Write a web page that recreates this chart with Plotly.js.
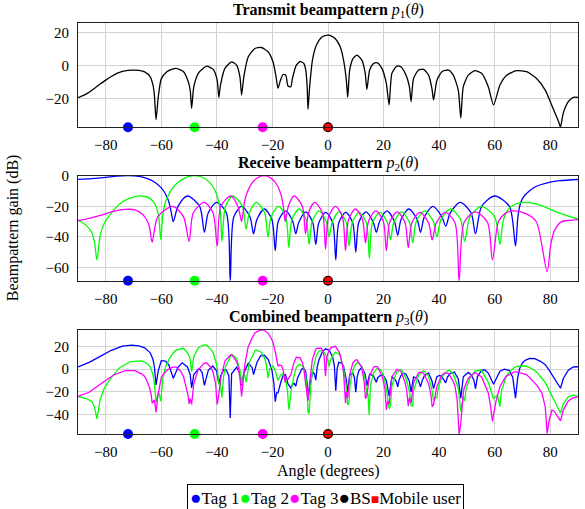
<!DOCTYPE html>
<html>
<head>
<meta charset="utf-8">
<script src="https://cdn.plot.ly/plotly-3.0.1.min.js"></script>
<style>
  html, body { margin: 0; padding: 0; background: #fff; }
  #chart { width: 585px; height: 509px; }
</style>
</head>
<body>
<div id="chart"></div>
<script>
// Angles (degrees) of the tags, the base station and the mobile user
const tagNames = ['Tag 1', 'Tag 2', 'Tag 3'];
const tagColors = ['#0000ff', '#00ff00', '#ff00ff'];
const tagAngles = [-72, -48, -23.5];
const bsAngle = [0];
const userAngle = [0];
const angleTicks = [-80, -60, -40, -20, 0, 20, 40, 60, 80];

// Transmit beampattern p1 (dB)
const txAngle = [
  -90,-88,-86,-84,-82,-80,-78,-76,-74,-72,
  -70.7,-68,-66,-64,-63,-62.5,-61.9,-61.1,-60,-58,
  -56,-54.7,-52,-50.3,-49.6,-49.1,-48.3,-46.7,-45,-43.7,
  -41.3,-39.9,-39.3,-38.7,-37.1,-34.7,-32.9,-31.7,-31.1,-30.3,
  -28.7,-26.3,-24,-21.6,-19.8,-18.8,-18,-17.1,-16.2,-15.2,
  -14.4,-13.4,-12.8,-11.4,-10,-8.7,-8,-7.5,-7.2,-6.6,
  -5.6,-4.2,-2.4,-1.1,0.2,1.4,2.6,4.4,5.6,6.6,
  7.1,7.8,9,10.4,12.2,13.4,14,15,16.4,17.8,
  19.4,21,22,23,24.8,26.2,28.1,29.3,29.9,30.8,
  32.6,34.4,36.2,37.4,38,39.2,41,43.4,45.1,46.9,
  47.8,48.7,50.5,52.9,55.3,57.7,59.6,61.9,64.3,67.9,
  71.5,75.1,78.2,81,83.2,83.7,84.7,86.5,88.3,90
];
const txGain = [
  -19.6,-18.2,-16.3,-13.8,-11.3,-8.9,-6.7,-4.8,-3.6,-3.0,
  -2.8,-3.0,-3.9,-6.9,-12,-18,-33,-19,-8,-3.8,
  -2.2,-1.8,-3.8,-9.9,-15,-26,-12.9,-4.8,-1.8,-0.4,
  -2.4,-8.9,-19.4,-11.9,-1.8,2.2,0.2,-6.9,-18,-6.9,
  5.3,10.3,10.9,8.3,2.2,-5.9,-13.9,-8.9,-5.5,-5.9,
  -12.5,-13,-7.9,0.2,2.4,1.2,-2.8,-12.9,-26.7,-12.9,
  3.2,12.3,17,18.1,18.4,17.7,16.4,11.3,3.2,-8.9,
  -19.4,-2.8,4.2,6.3,3.2,-4.8,-14.5,-2.8,1.2,1.6,
  -1.8,-10.9,-24,-4.8,-0.4,-0.8,-5.9,-12.9,-22,-7.9,
  -2.8,-2.4,-5.9,-13.9,-21,-9.1,-3.8,-2.8,-5.9,-15,
  -32,-12.9,-5.9,-3.2,-4.8,-12.9,-24,-11.9,-5.9,-3.2,
  -3.8,-7.9,-15,-26,-35,-37.5,-29,-22,-19.4,-19.4
];

// Receive beampattern p2 (dB), one per tag
const rxAngleTag1 = [
  -90,-85,-80,-76,-72,-68,-65,-62.5,-60,-58.5,-57.3,-56.5,-55.7,
  -54.0,-50.6,-46.2,-44.5,
  -43.1,-40.1,-36.6,-35.2,
  -33.9,-31.1,-28.1,-26.8,
  -25.6,-22.9,-20.2,-19,
  -17.9,-15.3,-12.7,-11.6,
  -10.5,-8.0,-5.5,-4.4,
  -3.3,-0.8,1.7,2.8,
  3.9,6.4,8.9,10,
  11.1,13.7,16.3,17.4,
  18.6,21.2,23.9,25.1,
  26.3,29.1,32.1,33.3,
  34.7,37.8,41.0,42.4,
  44.0,47.6,51.5,53.1,
  55.3,60,65.3,67.5,
  68.3,69,70,71,72.6,75,78.6,83.4,90
];
const rxGainTag1 = [
  -2.4,-1.9,-1.1,-0.3,0,-0.5,-1.9,-4.1,-8.0,-12,-17,-23.4,-30,
  -20.1,-13.3,-20.1,-37,
  -24.3,-17.5,-24.3,-69,
  -26.9,-20.1,-26.9,-38,
  -28.6,-21.8,-28.6,-49,
  -29.8,-23,-29.8,-38,
  -30.5,-23.7,-30.5,-45,
  -30.8,-24,-30.8,-55,
  -30.8,-24,-30.8,-50,
  -30.5,-23.7,-30.5,-37,
  -29.8,-23,-29.8,-39,
  -28.6,-21.8,-28.6,-37,
  -26.9,-20.1,-26.9,-33,
  -24.3,-17.5,-24.3,-38,
  -20.1,-13.3,-20.1,-46,
  -28,-20,-15,-12.5,-9.8,-6.9,-4.8,-3.3,-2.5
];
const rxAngleTag2 = [
  -90,-87,-85,-84,-83.2,
  -82,-80.5,-78,-75,-71,-67,-64,-62.2,-61,-60.2,
  -59.5,-58.5,-57.2,-56,-54,-51,-48,-45,-42,-40.5,-39.3,-38.7,-38.2,
  -36.9,-34.3,-30.8,-29.5,
  -28.3,-25.8,-22.8,-21.6,
  -20.5,-17.8,-15.2,-14.1,
  -13.0,-10.4,-7.9,-6.8,
  -5.7,-3.2,-0.7,0.4,
  1.5,4,6.5,7.6,
  8.7,11.2,13.8,14.9,
  16,18.7,21.4,22.5,
  23.7,26.5,29.3,30.5,
  31.8,34.8,37.9,39.2,
  40.7,44.1,47.7,49.2,
  51.1,55.2,60,61.9,
  63,64.5,67,71,75,80,85,88,90
];
const rxGainTag2 = [
  -29,-32.5,-37.5,-44,-55,
  -39,-31,-24.5,-18.5,-14.5,-13.3,-15,-19,-26,-42,
  -26,-17.2,-12,-8.2,-4.4,-1.1,0,-1.2,-5.7,-10.4,-17.5,-24.3,-43,
  -20.1,-13.3,-20.1,-35,
  -24.3,-17.5,-24.3,-40,
  -26.9,-20.1,-26.9,-47,
  -28.6,-21.8,-28.6,-45,
  -29.8,-23,-29.8,-40,
  -30.5,-23.7,-30.5,-46,
  -30.8,-24,-30.8,-54,
  -30.8,-24,-30.8,-42,
  -30.5,-23.7,-30.5,-44,
  -29.8,-23,-29.8,-40,
  -28.6,-21.8,-28.6,-43,
  -26.9,-20.1,-26.9,-45,
  -30,-23,-19,-17.5,-18.5,-22,-25.5,-27.3,-28.3
];
const rxAngleTag3 = [
  -90,-86,-82,-77,-73,-69.5,-67,-65.3,-64.3,-63.3,
  -61.3,-55.9,-52,-50,
  -48.5,-44.6,-41.4,-39.9,
  -38.6,-35,-32.4,-31.1,
  -30.5,-30,-29,-27.5,-25.5,-23,-20.5,-18.5,-17.5,-16.7,-16,-15.4,
  -14.3,-12.2,-9.2,-8.1,
  -7.0,-4.8,-2.0,-0.9,
  0.2,2.7,5.2,6.3,
  7.4,9.9,12.4,13.5,
  14.6,17.2,19.9,21,
  22.2,24.9,27.7,28.9,
  30.2,33.1,36.2,37.5,
  39,42.2,45.7,47.2,
  49,53,57.4,59.2,
  61.4,63.7,67.1,71.2,74.9,78.9,
  80.2,81.6,84,87,90
];
const rxGainTag3 = [
  -29.5,-28,-26,-23.2,-22,-22.4,-24.9,-28.8,-33.4,-43.5,
  -26.9,-20.1,-26.9,-43,
  -24.3,-17.5,-24.3,-46,
  -20.1,-13.3,-20.1,-30,
  -23,-16.5,-10.5,-5.2,-1.5,0,-1.6,-5.6,-9.3,-14,-21.3,-30,
  -20.1,-13.3,-20.1,-38,
  -24.3,-17.5,-24.3,-48,
  -26.9,-20.1,-26.9,-49,
  -28.6,-21.8,-28.6,-44,
  -29.8,-23,-29.8,-49,
  -30.5,-23.7,-30.5,-47,
  -30.8,-24,-30.8,-42,
  -30.8,-24,-30.8,-69,
  -30.5,-23.7,-30.5,-55,
  -29.8,-24.8,-23,-24.8,-29.8,-62.8,
  -45,-35.6,-30.2,-29.2,-28.7
];

// Combined beampattern p3 (dB), one per tag
const combAngleTag1 = [
  -90,-86,-82,-78,-74,-70.7,-68,-66,-64,-63,
  -62.5,-61.9,-61.1,-60,-58.5,-57.3,-56.5,-55.7,-54,-52.5,
  -50.6,-49.6,-49.1,-48.3,-46.7,-46.2,-45.3,-44.5,-43.1,-41.5,
  -40.1,-39.3,-38.7,-37.6,-36.6,-35.7,-35.2,-34.7,-33.9,-32.9,
  -31.7,-31.1,-30.3,-28.7,-28.1,-27.3,-26.8,-25.6,-24.2,-22.9,
  -21.5,-20.2,-19.5,-19,-18.5,-18,-17.1,-16.2,-15.3,-14.4,
  -13.4,-12.7,-12.2,-11.6,-11,-10.5,-9.5,-8.7,-8,-7.5,
  -7.2,-6.6,-6,-5.5,-4.9,-4.4,-3.9,-3.3,-2,-0.8,
  0.5,1.7,2.3,2.8,3.3,3.9,5,5.6,6.6,7.1,
  7.8,8.9,9.5,10,10.5,11.1,12.2,13.4,14,15,
  16.3,16.9,17.4,17.9,18.6,19.8,21,22,23,23.9,
  24.6,25.1,25.6,26.3,27.3,28.1,29.3,29.9,30.8,32.1,
  32.7,33.3,34,34.7,36.2,37.4,38,39.2,40.2,41,
  41.8,42.4,43,44,45.5,46.9,47.8,48.7,50.5,51.5,
  52.5,53.1,53.8,55.3,56.5,57.7,59.6,60.5,61.9,63.5,
  65.3,66.5,67.5,68.3,69,70,71,72.6,74.4,76.5,
  78.2,79.5,81,82.2,83.2,83.7,84.7,86.5,88.3,90
];
const combGainTag1 = [
  2.0,6.0,11.3,16.6,20.3,21.2,20.5,18.8,14.4,8.6,
  1.9,-13.9,-1.2,7.5,7.1,3.7,-2.0,-8.1,1.6,5.6,
  1.9,-4.8,-16.5,-4.7,0.2,0,-3.1,-14.2,-1.0,2.8,
  -1.5,-13.2,-6.4,-0.5,-0.8,-5.8,-43,-3.8,-1.6,1.7,
  -3.4,-14.1,-3.4,5.3,3.7,1.3,-4.7,5.9,11.9,12.2,
  8.5,-0.8,-12,-28.6,-20.9,-20.9,-12.4,-5.8,-4.8,-13,
  -16.5,-13.3,-12.5,-14.9,-8.1,-4.9,0,0.9,-2.5,-12.9,
  -27,-14.4,-6.5,-2.5,-4,-9.7,1.5,7.9,15.4,17.9,
  16.5,10.6,2.7,-19,0.5,6,5.3,2.4,-9.1,-20.2,
  -5.3,-3.2,-7.1,-20.3,-6.8,-1.4,1.7,-4.6,-14.5,-4.3,
  -5.6,-9.7,-11.5,-7.5,-5.8,-5,-9.9,-23.5,-6.8,-8.4,
  -10.9,-15.5,-9.4,-5.5,-3.5,-4.4,-10.7,-20,-6.9,-8.2,
  -10.8,-15.6,-9.4,-5.8,-3.4,-10.1,-17.1,-6.6,-5.5,-6.7,
  -9.3,-12.1,-6.9,-3.8,-2.5,-8.7,-25.5,-6.7,-2.9,-4.8,
  -9.5,-17.2,-6.5,-0.9,-0.7,-3.4,-13.3,-8.6,-1.8,0,
  -1.2,-7,-25.4,-7.2,0.7,5.5,7.8,9.4,9.3,6.9,
  4,-0.5,-6,-10.6,-14.3,-16.8,-8.2,-0.9,1.9,2.1
];
const combAngleTag2 = [
  -90,-87,-85,-84,-83.2,-82,-80.5,-78,-75,-71,
  -67,-65,-64,-63,-62.5,-61.9,-61.5,-61,-60.2,-59.5,
  -58.5,-57.2,-56,-54.7,-52,-50.3,-49.6,-49.1,-48.3,-46.7,
  -45,-43.7,-42,-41.3,-40.5,-39.9,-39.3,-38.7,-38.2,-37.6,
  -36.9,-34.7,-34.3,-32.9,-31.7,-31.1,-30.3,-29.9,-29.5,-28.7,
  -28.3,-26.3,-25.8,-24,-22.8,-22.2,-21.6,-21,-20.5,-19.8,
  -18.8,-18,-17.1,-16.2,-15.2,-14.6,-14.1,-13.4,-13,-12.2,
  -11.4,-10.4,-9.2,-8.7,-8,-7.5,-7.2,-6.8,-6.6,-6.2,
  -5.7,-4.2,-3.2,-2,-0.7,-0.1,0.4,0.9,1.5,2.6,
  4,4.4,5.6,6.5,7.1,7.6,7.8,8.7,9.5,10.4,
  11.2,12.2,13.4,13.8,14,14.4,14.8,15.3,16,16.4,
  17.8,18.7,19.4,20.2,21,21.4,22,22.5,23,23.7,
  24.8,26.2,26.5,28.1,29.3,29.9,30.5,30.8,31.8,32.6,
  34.4,34.8,36.2,37.4,38,38.6,39.2,39.7,40.7,41,
  43.4,44.1,45.1,46.9,47.8,48.7,49.2,49.7,51.1,52.9,
  55.2,57.7,59.6,60,61,61.9,62.5,63,64.3,67,
  68,71,73,75.1,78.2,81,83.2,83.7,84.7,86.5,
  88.3,90
];
const combGainTag2 = [
  -24,-25.8,-28.5,-33.8,-43.8,-26.3,-16.5,-7.2,1.3,6.7,
  7.3,4.8,2.1,-4.8,-12,-29,-25,-19.5,-28,-8.7,
  1.9,8.9,13.6,16.7,18.3,13.4,8.5,-2.3,11.1,18.9,
  21,21.4,16.7,14.1,7.6,1.6,-12.9,-12.2,-25,-6.5,
  2.5,12.7,12.5,9.2,-0.9,-13,-4.9,-5.5,-11.5,2.3,
  5.8,16.3,16.9,14.9,9.3,4,-7.7,0.4,1.7,2.7,
  -2.7,-10,-5.4,-4,-8.8,-19,-35.6,-22,-14.6,-5.5,
  1.7,4,3,0.7,-6.3,-19.9,-37.7,-39,-26.9,-15,
  -3.4,12.3,15.9,16.7,12.2,8.3,2.4,8,10.8,14.9,
  13.2,11.5,0.7,-14.2,-31.4,-29,-16.8,-3.2,2.5,5.8,
  5.2,2.2,-9.3,-17.8,-22.5,-21.8,-40,-14,-6.5,-3.3,
  0.8,0,-2.3,-8,-16.4,-22.8,-35,-32,-14.8,-9.5,
  -2.4,-0.5,-1,-8.4,-19.4,-32,-32.5,-18.9,-10.3,-5.3,
  -1.5,-2,-6.4,-17.9,-27.5,-25,-25.1,-16.5,-9,-6.8,
  -0.8,-1.6,-4.2,-17,-37,-23.9,-28,-17.5,-7.9,-1.7,
  -0.8,-11.6,-26.2,-24.9,-23,-32.9,-18,-15.2,-5.4,1.5,
  2.5,2.8,1,-2.4,-11.7,-25,-35.5,-38.5,-30.5,-24.3,
  -22.8,-23.7
];
const combAngleTag3 = [
  -90,-86,-82,-77,-73,-70.7,-69.5,-67,-66,-65.3,
  -64.3,-63.6,-63.3,-62.5,-61.9,-61.3,-60,-58,-55.9,-54.7,
  -53,-52,-51,-50.3,-50,-49.6,-49.1,-48.5,-48.3,-46.7,
  -44.6,-43.7,-42,-41.4,-40.5,-39.9,-39.3,-38.6,-37.1,-35,
  -34.7,-32.9,-32.4,-31.7,-31.1,-30.5,-30,-29,-28.7,-27.5,
  -26.3,-25.5,-24,-23,-21.6,-20.5,-19.8,-18.8,-18.5,-18,
  -17.5,-17.1,-16.7,-16.2,-16,-15.4,-15.2,-14.3,-13.4,-12.8,
  -12.2,-11.4,-10,-9.2,-8.7,-8,-7.2,-6.6,-5.6,-4.8,
  -4.2,-2.4,-2,-1.4,-0.9,-0.4,0.2,1.2,2.7,4,
  4.4,5.2,5.6,6.3,6.6,7.1,7.4,7.8,9,9.9,
  10.4,12.2,12.4,13,13.5,14,14.6,15,16.4,17.2,
  17.8,19.4,19.9,20.5,21,21.5,22,22.2,23,24.8,
  26.2,27.7,28.3,28.9,29.3,29.9,30.2,30.8,32.6,33.1,
  34.4,36.2,37,37.5,38,39,39.2,41,42.2,43.4,
  45.1,45.7,46.5,47.2,47.8,48.7,49,50.5,53,55.3,
  57.4,57.7,58.5,59.2,59.6,60.5,61.4,61.9,63.7,64.3,
  67.1,67.9,71.2,71.5,74.9,75.1,77,78.2,78.9,79.7,
  80.6,81.5,82.5,83.7,84.7,86.5,88.3,90
];
const combGainTag3 = [
  -24,-20.3,-13.3,-4.9,-1.3,-0.9,-1.3,-4.3,-6.4,-9.7,
  -15.7,-23,-30,-27,-38,-23.9,-7,-0.8,1.8,1.8,
  -2,-6.7,-15.5,-23.9,-30.5,-26,-31,-15.3,-12.4,-0.3,
  5.1,5.6,0.9,-2.6,-12,-30.9,-22.4,-7.6,7.2,12.7,
  12.8,6.7,2.4,-7.9,-24,-8.5,3,16.5,19.8,26.6,
  31.8,33,34.6,34.4,31.7,27.4,23.4,13.3,9.5,2.6,
  3.7,3.6,3,0,-2.9,-11.8,-7.9,-8.6,-5,1.9,
  6.2,10.4,9.9,5.7,0.2,-14,-27.7,-10.9,8.7,14.8,
  18.3,18.5,16.9,11.5,-6.2,11.1,15.5,19.1,20.1,15,
  12.8,3.1,-2.8,-30,-19.9,-25.4,-16.6,-4.8,5.7,8,
  8.3,1.2,-2.6,-11,-26,-23.5,-11.8,-5.8,1.6,2.4,
  2.1,-5.8,-10.3,-17.5,-35.9,-28,-31,-26.5,-6.8,-0.1,
  -1.8,-11.3,-18,-32.5,-24.9,-30,-23.8,-11.9,-3.1,-2.6,
  -3.4,-12.7,-21.5,-33,-31,-16.8,-15.1,-5.3,-3.2,-3.8,
  -10.9,-14.8,-27,-57,-48,-20.9,-17,-7.9,-2.9,-6.8,
  -18,-20.9,-32,-46,-40,-28,-19.8,-15.4,-7.6,-6.1,
  -2.4,-2.4,-4.5,-4.8,-13.4,-13.9,-21,-33,-56.5,-44,
  -36,-37,-41,-45.5,-36,-28,-25,-24.4
];

// Panel layout: vertical ranges of the three beampattern plots
const panels = [
  { x: 'x',  y: 'y',  range: [-37.6, 25.8], ticks: [-20, 0, 20],        domain: [0.7462, 1] },
  { x: 'x2', y: 'y2', range: [-68.7, 0],    ticks: [-60, -40, -20, 0],  domain: [0.373, 0.6285] },
  { x: 'x3', y: 'y3', range: [-57, 34.7],   ticks: [-40, -20, 0, 20],   domain: [0, 0.2538] }
];

const serif = 'Liberation Serif, Times New Roman, Times, serif';
const lineW = 1.3;
const traces = [];

traces.push({
  x: txAngle, y: txGain, xaxis: 'x', yaxis: 'y', mode: 'lines',
  line: { color: '#000000', width: lineW, shape: 'spline', smoothing: 0.6 },
  hoverinfo: 'skip'
});

const rxSets = [[rxAngleTag1, rxGainTag1], [rxAngleTag2, rxGainTag2], [rxAngleTag3, rxGainTag3]];
rxSets.forEach(([a, g], i) => traces.push({
  x: a, y: g, xaxis: 'x2', yaxis: 'y2', mode: 'lines', name: tagNames[i],
  line: { color: tagColors[i], width: lineW, shape: 'spline', smoothing: 0.8 },
  hoverinfo: 'skip'
}));

const combSets = [[combAngleTag1, combGainTag1], [combAngleTag2, combGainTag2], [combAngleTag3, combGainTag3]];
combSets.forEach(([a, g], i) => traces.push({
  x: a, y: g, xaxis: 'x3', yaxis: 'y3', mode: 'lines', name: tagNames[i],
  line: { color: tagColors[i], width: lineW },
  hoverinfo: 'skip'
}));

// Position markers sitting on the bottom edge of every panel
panels.forEach(p => {
  const base = p.range[0];
  tagAngles.forEach((ang, i) => traces.push({
    x: [ang], y: [base], xaxis: p.x, yaxis: p.y, mode: 'markers', cliponaxis: false,
    marker: { symbol: 'circle', size: 10, color: tagColors[i] }, hoverinfo: 'skip'
  }));
  traces.push({
    x: bsAngle, y: [base], xaxis: p.x, yaxis: p.y, mode: 'markers', cliponaxis: false,
    marker: { symbol: 'circle', size: 10, color: '#000000' }, hoverinfo: 'skip'
  });
  traces.push({
    x: userAngle, y: [base], xaxis: p.x, yaxis: p.y, mode: 'markers', cliponaxis: false,
    marker: { symbol: 'square', size: 7, color: '#ff0000' }, hoverinfo: 'skip'
  });
});

const xCommon = {
  range: [-90, 90], tickvals: angleTicks, showgrid: true, gridcolor: '#d2d2d2', gridwidth: 1,
  zeroline: false, showline: true, mirror: true, linecolor: '#222222', linewidth: 1,
  ticks: '', tickfont: { family: serif, size: 15, color: '#000' }, ticklabelstandoff: 4
};
const yCommon = {
  showgrid: true, gridcolor: '#d2d2d2', gridwidth: 1,
  zeroline: false, showline: true, mirror: true, linecolor: '#222222', linewidth: 1,
  ticks: '', tickfont: { family: serif, size: 15, color: '#000' }, ticklabelstandoff: 5
};

const titles = [
  '<b>Transmit beampattern</b> <i>p</i><sub>1</sub>(<i>θ</i>)',
  '<b>Receive beampattern</b> <i>p</i><sub>2</sub>(<i>θ</i>)',
  '<b>Combined beampattern</b> <i>p</i><sub>3</sub>(<i>θ</i>)'
];

const annotations = panels.map((p, i) => ({
  text: titles[i], xref: 'paper', yref: 'paper', x: 0.5, y: p.domain[1],
  xanchor: 'center', yanchor: 'bottom', yshift: 1, showarrow: false,
  font: { family: serif, size: 16, color: '#000' }
}));

annotations.push({
  text: 'Angle (degrees)', xref: 'paper', yref: 'paper', x: 0.5, y: -0.0893,
  xanchor: 'center', yanchor: 'middle', showarrow: false,
  font: { family: serif, size: 16, color: '#000' }
});
annotations.push({
  text: 'Beampattern gain (dB)', xref: 'paper', yref: 'paper', x: -0.13, y: 0.5008,
  xanchor: 'center', yanchor: 'middle', textangle: -90, showarrow: false,
  font: { family: serif, size: 16, color: '#000' }
});

// Legend box
const dot = c => '<span style="color:' + c + ';font-size:19px">●</span>';
const legendText =
  dot(tagColors[0]) + tagNames[0] + dot(tagColors[1]) + tagNames[1] + dot(tagColors[2]) + tagNames[2] +
  dot('#000000') + 'BS' + '<span style="color:#ff0000;font-size:14px">■</span>' + 'Mobile user';
annotations.push({
  text: legendText, xref: 'paper', yref: 'paper', x: 0.494, y: -0.1545,
  xanchor: 'center', yanchor: 'middle', showarrow: false,
  bordercolor: '#000', borderwidth: 1, borderpad: 2, bgcolor: '#fff',
  font: { family: serif, size: 17, color: '#000' }
});

const layout = {
  width: 585, height: 509,
  margin: { l: 78, r: 7, t: 23, b: 75, pad: 0 },
  paper_bgcolor: '#ffffff', plot_bgcolor: '#ffffff',
  font: { family: serif, size: 15, color: '#000' },
  showlegend: false,
  xaxis:  Object.assign({}, xCommon, { anchor: 'y' }),
  xaxis2: Object.assign({}, xCommon, { anchor: 'y2' }),
  xaxis3: Object.assign({}, xCommon, { anchor: 'y3' }),
  yaxis:  Object.assign({}, yCommon, { anchor: 'x',  domain: panels[0].domain, range: panels[0].range, tickvals: panels[0].ticks }),
  yaxis2: Object.assign({}, yCommon, { anchor: 'x2', domain: panels[1].domain, range: panels[1].range, tickvals: panels[1].ticks }),
  yaxis3: Object.assign({}, yCommon, { anchor: 'x3', domain: panels[2].domain, range: panels[2].range, tickvals: panels[2].ticks }),
  annotations: annotations
};

Plotly.newPlot('chart', traces, layout, { displayModeBar: false, staticPlot: true });
</script>
</body>
</html>
